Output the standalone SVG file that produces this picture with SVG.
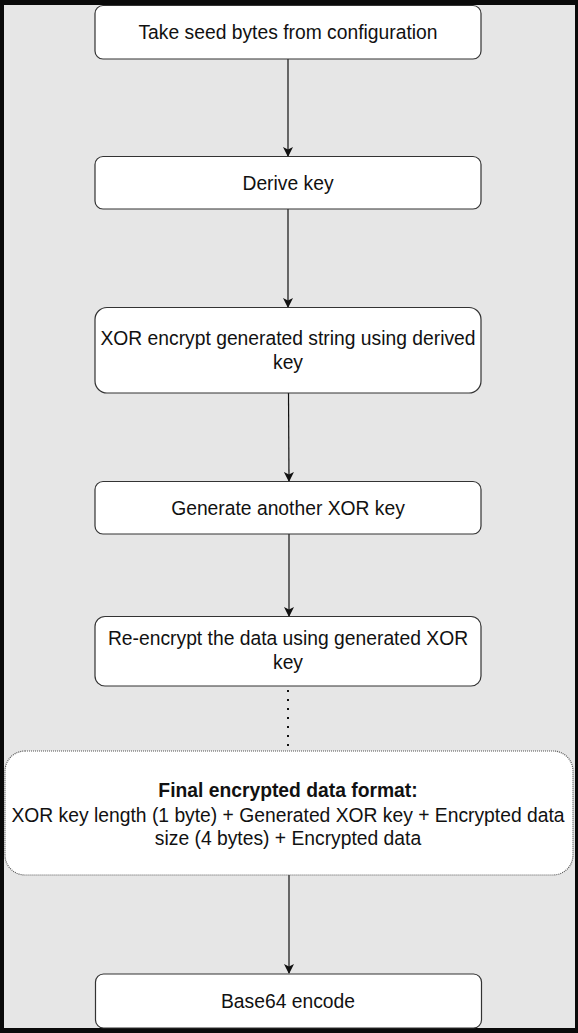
<svg xmlns="http://www.w3.org/2000/svg" width="578" height="1033" viewBox="0 0 578 1033">
<style>
.box{fill:#ffffff;stroke:#333333;stroke-width:1.2}
.dot{fill:#ffffff;stroke:#555555;stroke-width:1.2;stroke-dasharray:1 1}
.t{font-family:"Liberation Sans",Arial,Helvetica,sans-serif;font-size:19.3px;fill:#111111;text-anchor:middle}
.b{font-weight:bold}
.c{stroke:#111111;stroke-width:1.2;fill:none}
.d{stroke:#111111;stroke-width:2;fill:none;stroke-dasharray:2 7}
</style>
<defs>
<marker id="ah" markerWidth="10" markerHeight="10" refX="9" refY="5" orient="auto" markerUnits="userSpaceOnUse">
<path d="M0,0 L10,5 L0,10 L2.5,5 Z" fill="#111111"/>
</marker>
</defs>
<rect x="0" y="0" width="578" height="1033" fill="#0a0a0a"/>
<rect x="4" y="5" width="571" height="1023" fill="#e6e6e6"/>
<g id="connectors">
<line class="c" x1="288" y1="59" x2="288" y2="156" marker-end="url(#ah)"/>
<line class="c" x1="288" y1="209" x2="288" y2="307" marker-end="url(#ah)"/>
<line class="c" x1="288.5" y1="393" x2="289" y2="481" marker-end="url(#ah)"/>
<line class="c" x1="289" y1="534" x2="289" y2="616" marker-end="url(#ah)"/>
<line class="d" x1="288" y1="690" x2="288" y2="751"/>
<line class="c" x1="289" y1="875" x2="289" y2="973" marker-end="url(#ah)"/>
</g>
<g id="n1">
<rect class="box" x="95" y="5.5" width="386" height="53.5" rx="8"/>
<text class="t" x="288" y="39">Take seed bytes from configuration</text>
</g>
<g id="n2">
<rect class="box" x="95" y="156.5" width="386" height="52.5" rx="8"/>
<text class="t" x="288" y="190">Derive key</text>
</g>
<g id="n3">
<rect class="box" x="95" y="307.5" width="386" height="85.5" rx="12"/>
<text class="t" x="288" y="345">XOR encrypt generated string using derived</text>
<text class="t" x="288" y="369">key</text>
</g>
<g id="n4">
<rect class="box" x="95" y="481.5" width="386" height="52.5" rx="8"/>
<text class="t" x="288" y="515">Generate another XOR key</text>
</g>
<g id="n5">
<rect class="box" x="95" y="616.5" width="386" height="69.5" rx="10"/>
<text class="t" x="288" y="645">Re-encrypt the data using generated XOR</text>
<text class="t" x="288" y="669">key</text>
</g>
<g id="n6">
<rect class="dot" x="5" y="751" width="568" height="124" rx="20"/>
<text class="t b" x="288" y="797">Final encrypted data format:</text>
<text class="t" x="288" y="822">XOR key length (1 byte) + Generated XOR key + Encrypted data</text>
<text class="t" x="288" y="845">size (4 bytes) + Encrypted data</text>
</g>
<g id="n7">
<rect class="box" x="95.5" y="974" width="386" height="54" rx="8"/>
<text class="t" x="288" y="1008">Base64 encode</text>
</g>
</svg>
